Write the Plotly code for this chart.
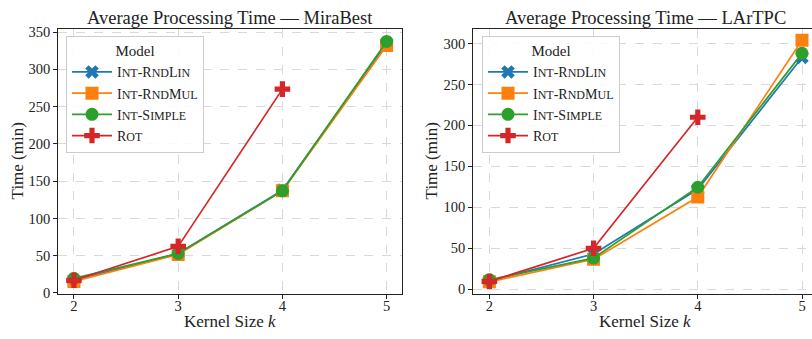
import plotly.graph_objects as go

kernel_sizes = [2, 3, 4, 5]
kernel_sizes_rot = [2, 3, 4]

# MiraBest
mb_rndlin = [17, 53, 138, 335]
mb_rndmul = [15.5, 51.5, 137, 332]
mb_simple = [19.5, 53, 137, 337.5]
mb_rot = [17, 62.5, 273.5]

# LArTPC
lt_rndlin = [10, 43, 122, 283]
lt_rndmul = [9, 36.5, 112.5, 304]
lt_simple = [11.5, 38, 124.5, 288]
lt_rot = [9.5, 50, 210]

model_names = ["Int-RndLin", "Int-RndMul", "Int-Simple", "Rot"]
colors = ["#1f77b4", "#ff7f0e", "#2ca02c", "#d62728"]
symbols = ["x", "square", "circle", "cross"]

FONT = "Liberation Serif"
SC = 12  # small caps size


def smallcaps(name):
    res = []
    for ch in name:
        if ch.islower():
            res.append(f"<span style='font-size:{SC}px'>{ch.upper()}</span>")
        else:
            res.append(ch)
    return "".join(res).replace(f"</span><span style='font-size:{SC}px'>", "")


fig = go.Figure()

panels = [
    ("x", "y", "legend", [mb_rndlin, mb_rndmul, mb_simple, mb_rot]),
    ("x2", "y2", "legend2", [lt_rndlin, lt_rndmul, lt_simple, lt_rot]),
]
for xa, ya, lg, series in panels:
    for name, vals, col, sym in zip(model_names, series, colors, symbols):
        xs = kernel_sizes if len(vals) == 4 else kernel_sizes_rot
        fig.add_trace(go.Scatter(
            x=xs, y=vals, mode="lines+markers", name=smallcaps(name),
            line=dict(color=col, width=1.7),
            marker=dict(symbol=sym, size=13 if sym != "x" else 12, color=col, line=dict(width=0)),
            xaxis=xa, yaxis=ya, legend=lg,
        ))

axis_common = dict(
    showline=True, linecolor="#222", linewidth=1.2,
    ticks="outside", ticklen=4, tickcolor="#222", tickwidth=1,
    showgrid=True, gridcolor="#d9d9d9", griddash="dash", gridwidth=0.8,
    zeroline=False, tickfont=dict(family=FONT, size=14.5, color="#222"),
)

W, H = 812, 339
ytop = 1 - 25 / H
ybot = 1 - 299.3 / H

legend_common = dict(
    xanchor="left", yanchor="top",
    bgcolor="rgba(255,255,255,0.85)", bordercolor="#cccccc", borderwidth=1,
    font=dict(family=FONT, size=14, color="#222"),
    title=dict(text="Model", side="top center", font=dict(family=FONT, size=15)),
    tracegroupgap=0, itemwidth=40,
)

fig.update_layout(
    width=W, height=H, margin=dict(l=0, r=0, t=0, b=0),
    paper_bgcolor="white", plot_bgcolor="white",
    font=dict(family=FONT, color="#222"),
    xaxis=dict(axis_common, domain=[58.3 / W, 402.3 / W], range=[1.85, 5.15],
               tickvals=kernel_sizes, mirror=True, anchor="y", ticklabelstandoff=-5),
    yaxis=dict(axis_common, domain=[ybot, ytop], range=[-1, 354],
               tickvals=list(range(0, 351, 50)), mirror=True, anchor="x"),
    xaxis2=dict(axis_common, domain=[473.3 / W, 1.0], range=[1.846, 5.096],
                tickvals=kernel_sizes, mirror=True, anchor="y2", ticklabelstandoff=-5),
    yaxis2=dict(axis_common, domain=[ybot, ytop], range=[-5.5, 317.6],
                tickvals=list(range(0, 301, 50)), mirror=False, anchor="x2"),
    legend=dict(legend_common, x=66 / W, y=1 - 32 / H),
    legend2=dict(legend_common, x=482 / W, y=1 - 32 / H),
    showlegend=True,
)

title_font = dict(family=FONT, size=18.5, color="#222")
label_font = dict(family=FONT, size=17, color="#222")
annotations = [
    dict(text="Average Processing Time — MiraBest", x=(58.3 + 402.3) / 2 / W, y=1 - 13 / H,
         font=title_font),
    dict(text="Average Processing Time — LArTPC", x=(473.3 + 817.6) / 2 / W, y=1 - 13 / H,
         font=title_font),
    dict(text="Kernel Size <i>k</i>", x=(58.3 + 402.3) / 2 / W, y=1 - 328 / H, font=label_font),
    dict(text="Kernel Size <i>k</i>", x=(473.3 + 817.6) / 2 / W, y=1 - 328 / H, font=label_font),
    dict(text="Time (min)", x=17 / W, y=(ybot + ytop) / 2, textangle=-90, font=label_font),
    dict(text="Time (min)", x=431 / W, y=(ybot + ytop) / 2, textangle=-90, font=label_font),
]
for a in annotations:
    a.update(xref="paper", yref="paper", showarrow=False, xanchor="center", yanchor="middle")
fig.update_layout(annotations=annotations)

fig.write_html("out.html")
